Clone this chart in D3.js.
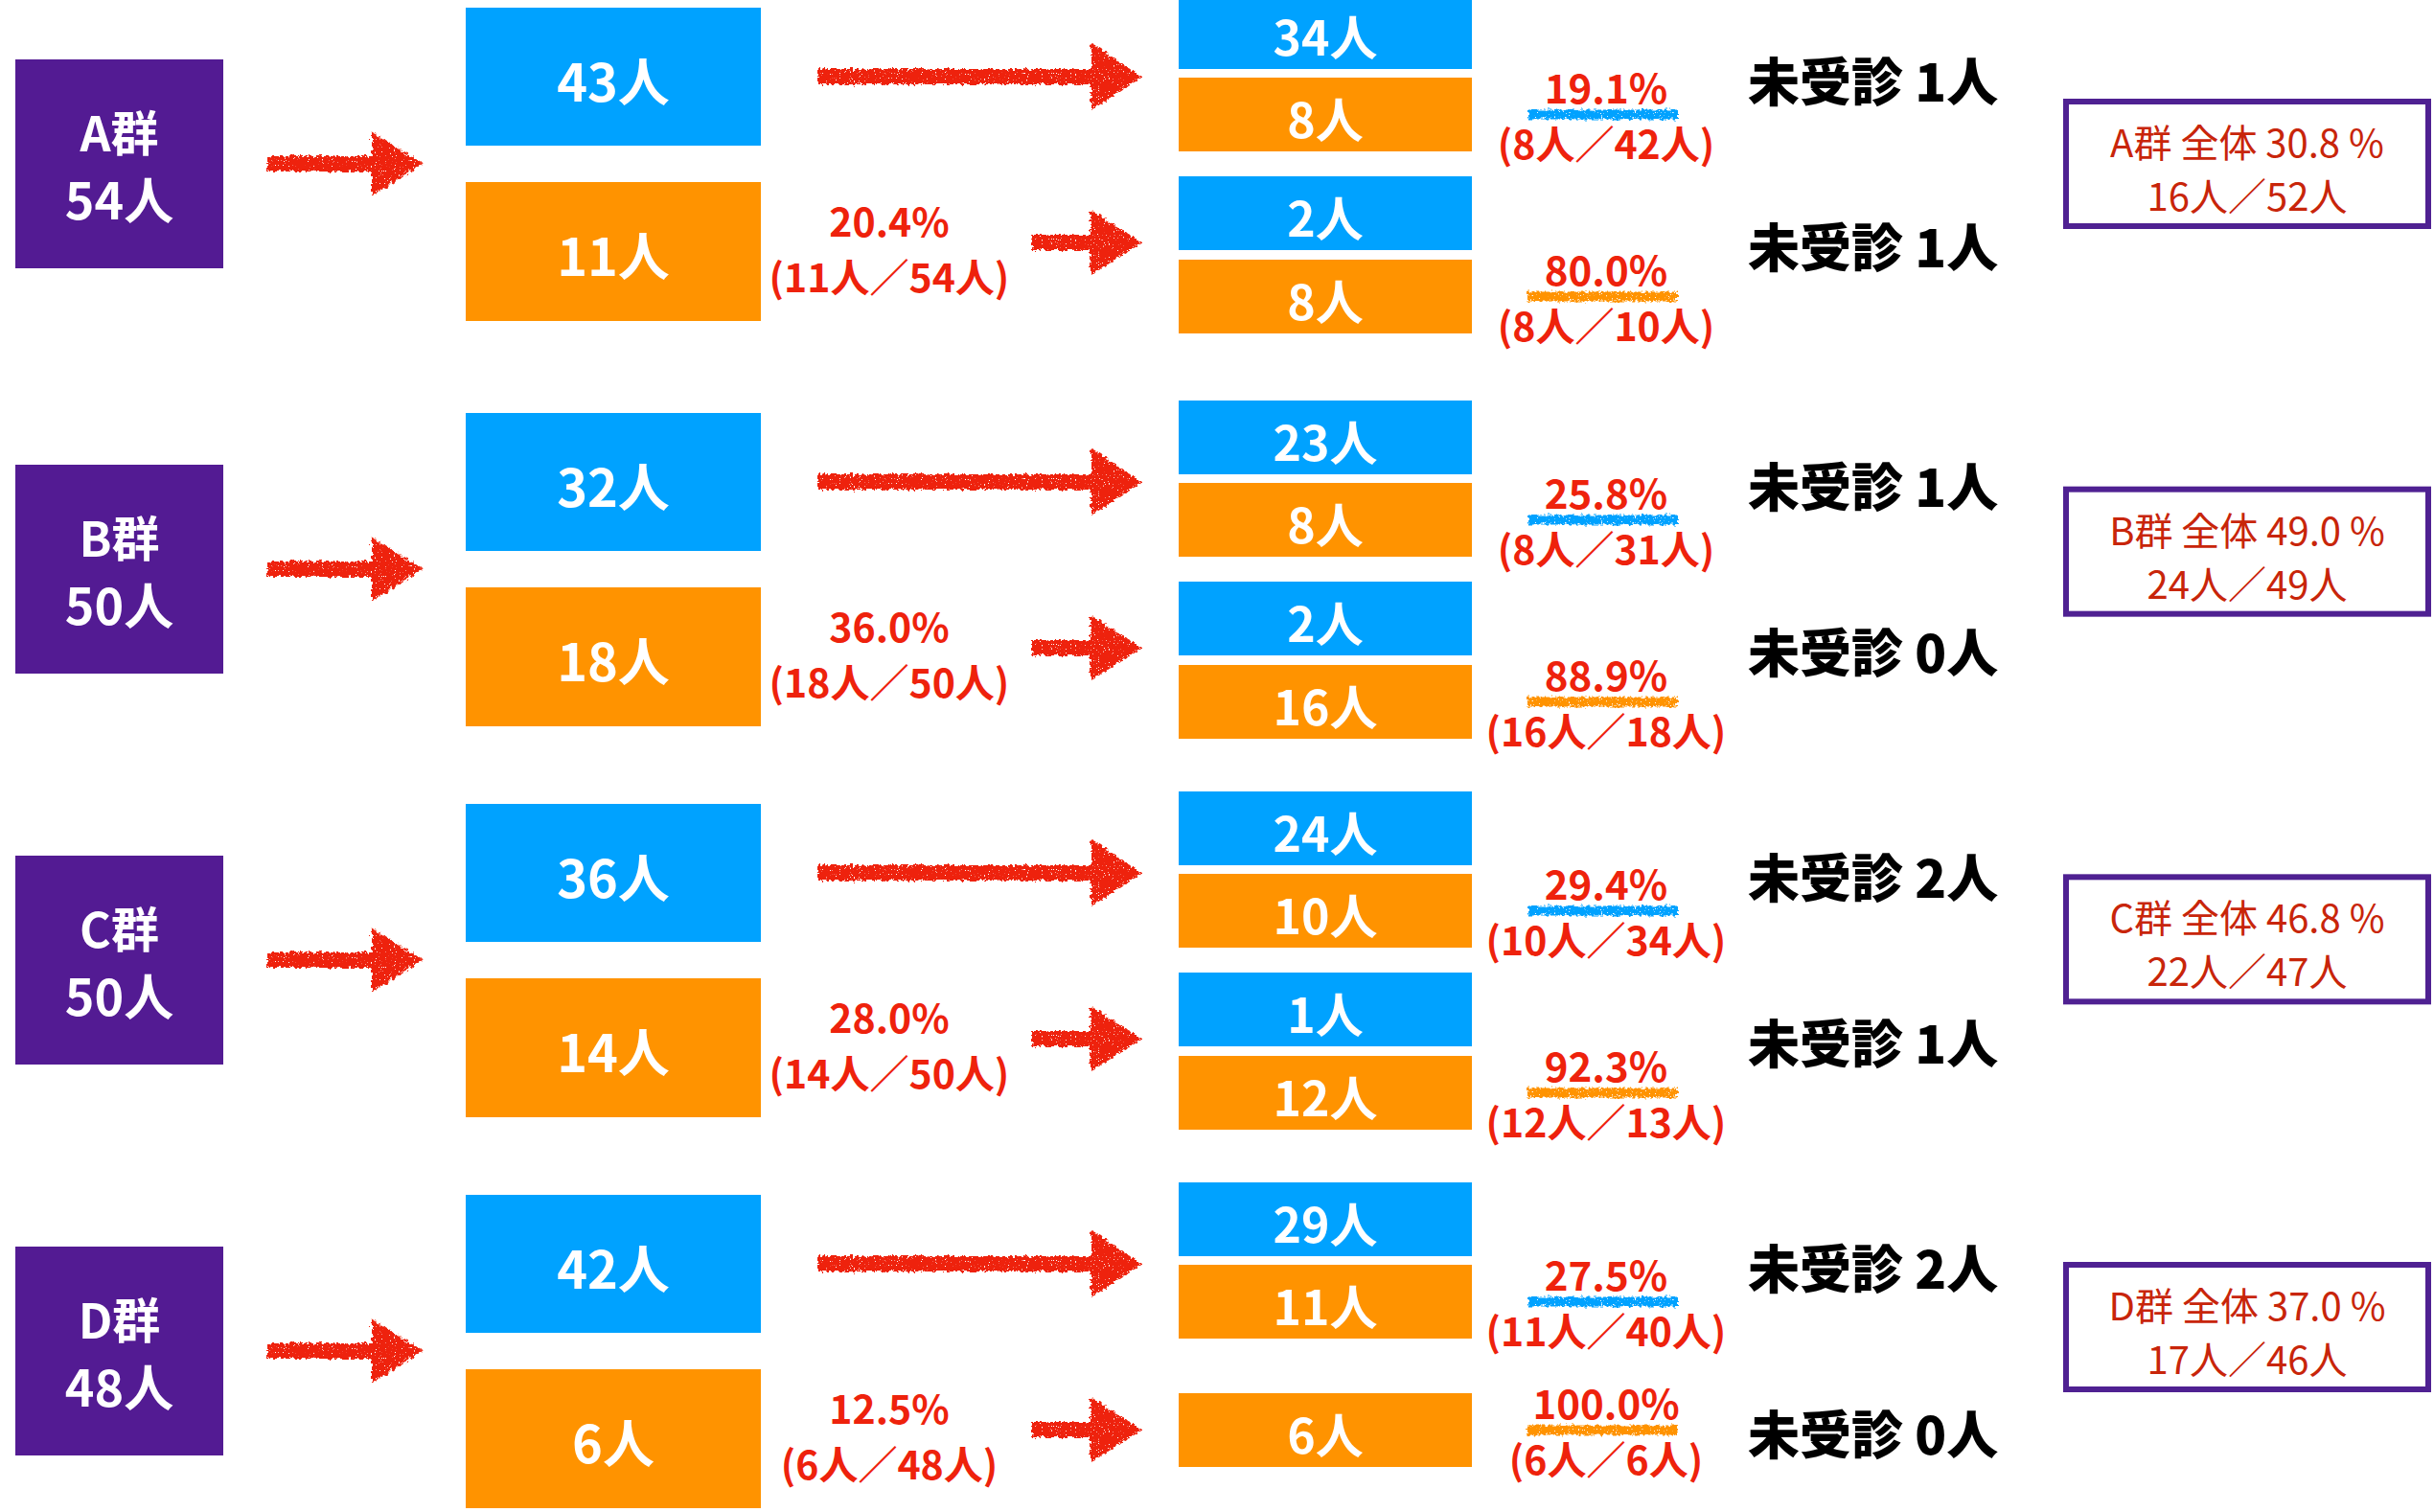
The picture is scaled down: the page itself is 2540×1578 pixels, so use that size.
<!DOCTYPE html>
<html>
<head>
<meta charset="utf-8">
<script src="https://cdn.jsdelivr.net/npm/d3@7"></script>
<style>
  body { margin: 0; background: #fff; }
  text { font-family: "Noto Sans CJK JP", "Noto Sans", sans-serif; }
</style>
</head>
<body>
<div id="chart"></div>
<script>
var svgWidth = 2540;
var svgHeight = 1578;

// group data
var groups = ["A", "B", "C", "D"];
var totals = [54, 50, 50, 48];
var firstBlue = [43, 32, 36, 42];
var firstOrange = [11, 18, 14, 6];
var firstRate = [20.4, 36.0, 28.0, 12.5];

// second stage, coming from the blue box
var upperBlue = [34, 23, 24, 29];
var upperOrange = [8, 8, 10, 11];
var upperRate = [19.1, 25.8, 29.4, 27.5];
var upperMissed = [1, 1, 2, 2];

// second stage, coming from the orange box
var lowerBlue = [2, 2, 1, 0];
var lowerOrange = [8, 16, 12, 6];
var lowerRate = [80.0, 88.9, 92.3, 100.0];
var lowerMissed = [1, 0, 1, 0];

// overall per group
var overallRate = [30.8, 49.0, 46.8, 37.0];
var overallNum = [16, 24, 22, 17];
var overallDen = [52, 49, 47, 46];

var rows = groups.map(function(g, i) {
  return {
    key: g, total: totals[i],
    blue: firstBlue[i], orange: firstOrange[i], rate: firstRate[i],
    uBlue: upperBlue[i], uOrange: upperOrange[i], uRate: upperRate[i], uMissed: upperMissed[i],
    lBlue: lowerBlue[i], lOrange: lowerOrange[i], lRate: lowerRate[i], lMissed: lowerMissed[i],
    oRate: overallRate[i], oNum: overallNum[i], oDen: overallDen[i]
  };
});

var colors = {
  purple: "#531b93",
  blue: "#00a2ff",
  orange: "#ff9300",
  red: "#ee220c",
  boxText: "#c8250a",
  line: "#4f2192"
};

// layout scales
var groupY = d3.scaleOrdinal().domain(groups).range([171, 594, 1002, 1410]);
var boxY = d3.scalePoint().domain(groups).range([103, 1317]);
var colX = {
  groupL: 16, groupR: 233,
  midL: 486, midR: 794,
  stackL: 1230, stackR: 1536,
  rateC: 928, pctC: 1672, missedL: 1824,
  boxL: 2153, boxR: 2537
};
var rowUp = -91, rowDown = 82;
var fmt = d3.format(".1f");

var svg = d3.select("#chart")
  .append("svg")
  .attr("width", svgWidth)
  .attr("height", svgHeight);

var defs = svg.append("defs");

// crayon look for arrows
var rough = defs.append("filter")
  .attr("id", "rough")
  .attr("x", "-10%").attr("y", "-40%")
  .attr("width", "120%").attr("height", "180%");
rough.append("feTurbulence")
  .attr("type", "fractalNoise").attr("baseFrequency", 0.3)
  .attr("numOctaves", 2).attr("seed", 3).attr("result", "n");
rough.append("feDisplacementMap")
  .attr("in", "SourceGraphic").attr("in2", "n").attr("scale", 7)
  .attr("xChannelSelector", "R").attr("yChannelSelector", "G").attr("result", "disp");
rough.append("feTurbulence")
  .attr("type", "fractalNoise").attr("baseFrequency", 0.8)
  .attr("numOctaves", 1).attr("seed", 9).attr("result", "n2");
rough.append("feColorMatrix")
  .attr("in", "n2").attr("type", "matrix")
  .attr("values", "0 0 0 0 0  0 0 0 0 0  0 0 0 0 0  14 0 0 0 -9.2")
  .attr("result", "holes");
rough.append("feComposite")
  .attr("in", "disp").attr("in2", "holes").attr("operator", "out");

function arrowPath(x0, x1, headW, headH, shaft) {
  var xh = x1 - headW;
  return "M" + x0 + "," + (-shaft / 2) +
    "L" + xh + "," + (-shaft / 2) +
    "L" + xh + "," + (-headH / 2) +
    "L" + x1 + ",0" +
    "L" + xh + "," + (headH / 2) +
    "L" + xh + "," + (shaft / 2) +
    "L" + x0 + "," + (shaft / 2) + "Z";
}

function addBox(g, x0, x1, y, h, fill, label, size) {
  g.append("rect")
    .attr("x", x0).attr("y", y)
    .attr("width", x1 - x0).attr("height", h)
    .attr("fill", fill);
  g.append("text")
    .attr("x", (x0 + x1) / 2).attr("y", y + h / 2 + 2)
    .attr("text-anchor", "middle")
    .attr("dominant-baseline", "central")
    .attr("fill", "#fff")
    .attr("font-size", size)
    .attr("font-weight", 700)
    .text(label);
}

var groupG = svg.selectAll("g.group")
  .data(rows)
  .join("g")
  .attr("class", "group")
  .attr("transform", d => `translate(0, ${groupY(d.key)})`);

groupG.each(function(d) {
  var g = d3.select(this);

  // group box
  g.append("rect")
    .attr("x", colX.groupL).attr("y", -109)
    .attr("width", colX.groupR - colX.groupL).attr("height", 218)
    .attr("fill", colors.purple);
  g.append("text")
    .attr("x", (colX.groupL + colX.groupR) / 2).attr("y", -35)
    .attr("text-anchor", "middle").attr("dominant-baseline", "central")
    .attr("fill", "#fff").attr("font-size", 50).attr("font-weight", 700)
    .text(d.key + "群");
  g.append("text")
    .attr("x", (colX.groupL + colX.groupR) / 2).attr("y", 35)
    .attr("text-anchor", "middle").attr("dominant-baseline", "central")
    .attr("fill", "#fff").attr("font-size", 52).attr("font-weight", 700)
    .text(d.total + "人");

  // first split
  addBox(g, colX.midL, colX.midR, -163, 144, colors.blue, d.blue + "人", 54);
  addBox(g, colX.midL, colX.midR, 19, 145, colors.orange, d.orange + "人", 54);

  // arrows
  var arrows = [
    {y: 0, x0: 279, x1: 441, hw: 53, hh: 67},
    {y: rowUp, x0: 854, x1: 1191, hw: 52, hh: 70},
    {y: rowDown, x0: 1077, x1: 1191, hw: 53, hh: 68}
  ];
  g.selectAll("path.arrow")
    .data(arrows)
    .join("path")
    .attr("class", "arrow")
    .attr("transform", a => `translate(0, ${a.y})`)
    .attr("d", a => arrowPath(a.x0, a.x1, a.hw, a.hh, 16))
    .attr("fill", colors.red)
    .attr("filter", "url(#rough)");

  // first-stage rate
  g.append("text")
    .attr("x", colX.rateC).attr("y", rowDown - 6)
    .attr("text-anchor", "middle")
    .attr("fill", colors.red).attr("font-size", 41).attr("font-weight", 700)
    .text(fmt(d.rate) + "%");
  g.append("text")
    .attr("x", colX.rateC).attr("y", rowDown + 52)
    .attr("text-anchor", "middle")
    .attr("fill", colors.red).attr("font-size", 41).attr("font-weight", 700)
    .text("(" + d.orange + "人／" + d.total + "人)");

  // second stage stacks
  var upOrangeY = -90;
  addBox(g, colX.stackL, colX.stackR, -176, 77, colors.blue, d.uBlue + "人", 50);
  addBox(g, colX.stackL, colX.stackR, upOrangeY, 77, colors.orange, d.uOrange + "人", 50);

  var lowOrangeY;
  if (d.lBlue > 0) {
    addBox(g, colX.stackL, colX.stackR, 13, 77, colors.blue, d.lBlue + "人", 50);
    lowOrangeY = 100;
  } else {
    lowOrangeY = rowDown - 38;
  }
  addBox(g, colX.stackL, colX.stackR, lowOrangeY, 77, colors.orange, d.lOrange + "人", 50);

  var pcts = [
    {uc: upOrangeY + 38.5, rate: d.uRate, num: d.uOrange, den: d.uBlue + d.uOrange, col: colors.blue},
    {uc: lowOrangeY + 38.5, rate: d.lRate, num: d.lOrange, den: d.lBlue + d.lOrange, col: colors.orange}
  ];
  pcts.forEach(function(p) {
    g.append("rect")
      .attr("x", colX.pctC - 78).attr("y", p.uc - 5)
      .attr("width", 156).attr("height", 10)
      .attr("fill", p.col)
      .attr("filter", "url(#rough)");
    g.append("text")
      .attr("x", colX.pctC + 4).attr("y", p.uc - 12)
      .attr("text-anchor", "middle")
      .attr("fill", colors.red).attr("font-size", 42).attr("font-weight", 700)
      .text(fmt(p.rate) + "%");
    g.append("text")
      .attr("x", colX.pctC + 4).attr("y", p.uc + 46)
      .attr("text-anchor", "middle")
      .attr("fill", colors.red).attr("font-size", 41).attr("font-weight", 700)
      .text("(" + p.num + "人／" + p.den + "人)");
  });

  // not examined
  [[rowUp, d.uMissed], [rowDown, d.lMissed]].forEach(function(m) {
    g.append("text")
      .attr("x", colX.missedL).attr("y", m[0] + 2)
      .attr("dominant-baseline", "central")
      .attr("fill", "#000").attr("font-size", 54).attr("font-weight", 900)
      .text("未受診 " + m[1] + "人");
  });
});

// overall summary boxes
var boxG = svg.selectAll("g.summary")
  .data(rows)
  .join("g")
  .attr("class", "summary")
  .attr("transform", d => `translate(0, ${boxY(d.key)})`);

boxG.append("rect")
  .attr("x", colX.boxL + 3).attr("y", 3)
  .attr("width", colX.boxR - colX.boxL - 6).attr("height", 130)
  .attr("fill", "#fff")
  .attr("stroke", colors.line)
  .attr("stroke-width", 6);

boxG.append("text")
  .attr("x", (colX.boxL + colX.boxR) / 2).attr("y", 44)
  .attr("text-anchor", "middle").attr("dominant-baseline", "central")
  .attr("fill", colors.boxText).attr("font-size", 40)
  .text(d => d.key + "群 全体 " + fmt(d.oRate) + " %");

boxG.append("text")
  .attr("x", (colX.boxL + colX.boxR) / 2).attr("y", 100)
  .attr("text-anchor", "middle").attr("dominant-baseline", "central")
  .attr("fill", colors.boxText).attr("font-size", 40)
  .text(d => d.oNum + "人／" + d.oDen + "人");
</script>
</body>
</html>
